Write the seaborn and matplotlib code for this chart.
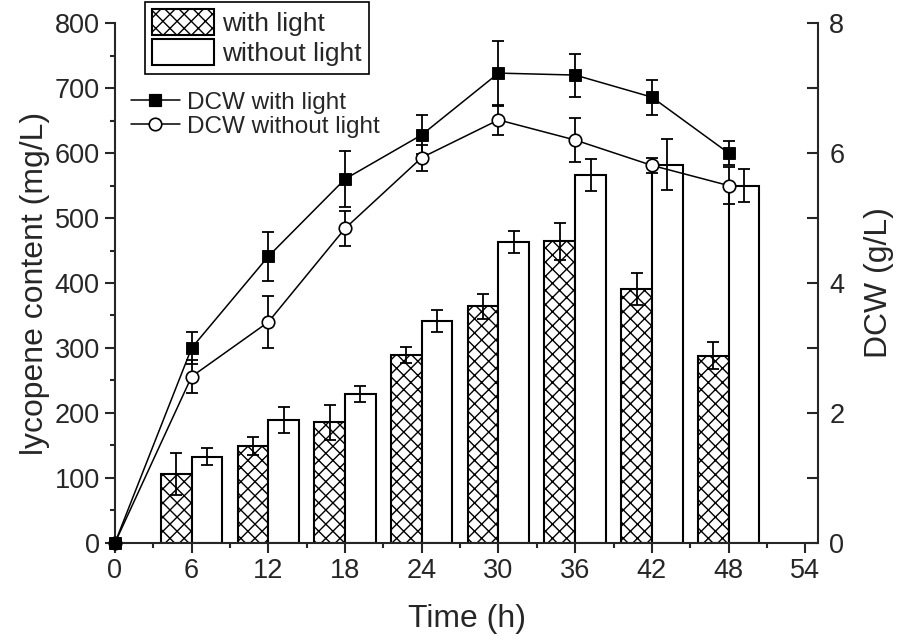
import numpy as np
import pandas as pd
import matplotlib
matplotlib.use('Agg')
import matplotlib.pyplot as plt
import seaborn as sns
from matplotlib.ticker import MultipleLocator
from matplotlib.patches import Patch
from matplotlib.lines import Line2D

# ---------------- Data ----------------
time_h = [6, 12, 18, 24, 30, 36, 42, 48]
lyc_light = [106, 149, 186, 289, 364, 464, 391, 288]
lyc_light_err = [33, 14, 27, 12, 19, 28, 25, 21]
lyc_dark = [133, 189, 229, 341, 463, 566, 582, 550]
lyc_dark_err = [13, 20, 12, 17, 17, 25, 39, 26]

dcw_time = [0, 6, 12, 18, 24, 30, 36, 42, 48]
dcw_light = [0, 3.00, 4.41, 5.60, 6.28, 7.23, 7.20, 6.86, 6.00]
dcw_light_err = [0, 0.25, 0.38, 0.43, 0.30, 0.50, 0.33, 0.27, 0.18]
dcw_dark = [0, 2.56, 3.40, 4.84, 5.93, 6.51, 6.20, 5.81, 5.50]
dcw_dark_err = [0, 0.25, 0.40, 0.27, 0.20, 0.23, 0.34, 0.11, 0.29]

conds = ["with light", "without light"]

# dpi 85 so the 'xx' hatch gets about the same density as the original;
# sizes below are worked out for 100 dpi and scaled with S
DPI = 85
S = 100 / DPI

# ---------------- Style ----------------
sns.set_style("ticks")
plt.rcParams['font.family'] = ['Liberation Sans', 'DejaVu Sans']
plt.rcParams['hatch.linewidth'] = 1.0 * S
plt.rcParams['hatch.color'] = 'black'

df = pd.DataFrame({
    "time": time_h * 2,
    "lyc": lyc_light + lyc_dark,
    "err": lyc_light_err + lyc_dark_err,
    "cond": [conds[0]] * len(time_h) + [conds[1]] * len(time_h),
})

fig = plt.figure(figsize=(898 / DPI, 641 / DPI), dpi=DPI)
ax = fig.add_axes([0.128, 0.153, 0.783, 0.811])

sns.barplot(data=df, x="time", y="lyc", hue="cond", hue_order=conds,
            native_scale=True, dodge=True, width=0.8, errorbar=None,
            palette=["white", "white"], edgecolor="black", linewidth=1.5 * S,
            legend=False, ax=ax)

eb = dict(fmt='none', ecolor='black', elinewidth=1.3 * S, capsize=4.5 * S,
          capthick=1.3 * S, zorder=5)

# hatch bars + error bars at the drawn bar centres
for cont, errs, hatch in zip(ax.containers, [lyc_light_err, lyc_dark_err], ["xx", ""]):
    xs, hs = [], []
    for p in cont.patches:
        p.set_hatch(hatch)
        xs.append(p.get_x() + p.get_width() / 2)
        hs.append(p.get_height())
    ax.errorbar(xs, hs, yerr=errs, **eb)

ax.set_xlim(0, 55)
ax.set_ylim(0, 800)
ax.xaxis.set_major_locator(MultipleLocator(6))
ax.xaxis.set_minor_locator(MultipleLocator(3))
ax.yaxis.set_major_locator(MultipleLocator(100))
ax.yaxis.set_minor_locator(MultipleLocator(50))
ax.tick_params(which='major', direction='out', length=7 * S, width=1.5 * S,
               labelsize=19.5 * S, pad=4 * S)
ax.tick_params(which='minor', direction='out', length=3.5 * S, width=1.5 * S)
ax.set_xlabel("Time (h)", fontsize=23 * S, labelpad=14 * S)
ax.set_ylabel("lycopene content (mg/L)", fontsize=23 * S, labelpad=3 * S)
ax.spines['top'].set_visible(False)
ax.spines['right'].set_visible(False)
for s in ['left', 'bottom']:
    ax.spines[s].set_linewidth(1.5 * S)

# ---------------- DCW lines ----------------
ax2 = ax.twinx()
sns.lineplot(x=dcw_time, y=dcw_dark, color='black', lw=1.1 * S, marker='o',
             markersize=9 * S, markerfacecolor='white', markeredgecolor='black',
             markeredgewidth=1.2 * S, ax=ax2, clip_on=False, zorder=6)
sns.lineplot(x=dcw_time, y=dcw_light, color='black', lw=1.1 * S, marker='s',
             markersize=8.5 * S, markerfacecolor='black', markeredgecolor='black',
             ax=ax2, clip_on=False, zorder=7)
ax2.errorbar(dcw_time, dcw_light, yerr=dcw_light_err, **eb)
ax2.errorbar(dcw_time, dcw_dark, yerr=dcw_dark_err, **eb)
ax2.set_ylim(0, 8)
ax2.yaxis.set_major_locator(MultipleLocator(2))
ax2.yaxis.set_minor_locator(MultipleLocator(1))
ax2.tick_params(which='both', direction='in', length=8 * S, width=1.5 * S,
                labelsize=19.5 * S, pad=8 * S)
ax2.set_ylabel("DCW (g/L)", fontsize=23 * S, labelpad=14 * S)
ax2.spines['top'].set_visible(False)
ax2.spines['left'].set_visible(False)
ax2.spines['bottom'].set_visible(False)
ax2.spines['right'].set_linewidth(1.5 * S)
ax2.set_xlim(0, 55)

# ---------------- Legends ----------------
bar_handles = [Patch(facecolor='white', edgecolor='black', hatch='xx', linewidth=1.5 * S),
               Patch(facecolor='white', edgecolor='black', linewidth=1.5 * S)]
leg1 = fig.legend(bar_handles, conds, loc='upper left',
                  bbox_to_anchor=(0.1615, 0.997), fontsize=19 * S, frameon=True,
                  fancybox=False, edgecolor='black', framealpha=1,
                  handlelength=2.35, handleheight=1.13, labelspacing=0.12,
                  handletextpad=0.27, borderpad=0.28, borderaxespad=0)
leg1.get_frame().set_linewidth(1.2 * S)

line_handles = [Line2D([], [], color='black', lw=1.1 * S, marker='s', markersize=8.5 * S,
                       markerfacecolor='black'),
                Line2D([], [], color='black', lw=1.1 * S, marker='o', markersize=9 * S,
                       markerfacecolor='white', markeredgewidth=1.2 * S)]
fig.legend(line_handles, ["DCW with light", "DCW without light"], loc='upper left',
           bbox_to_anchor=(0.146, 0.857), fontsize=17.5 * S, frameon=False,
           handlelength=2.0, handletextpad=0.3, labelspacing=0.08,
           borderpad=0, borderaxespad=0)

fig.savefig("out.png", dpi=DPI)
plt.close(fig)
